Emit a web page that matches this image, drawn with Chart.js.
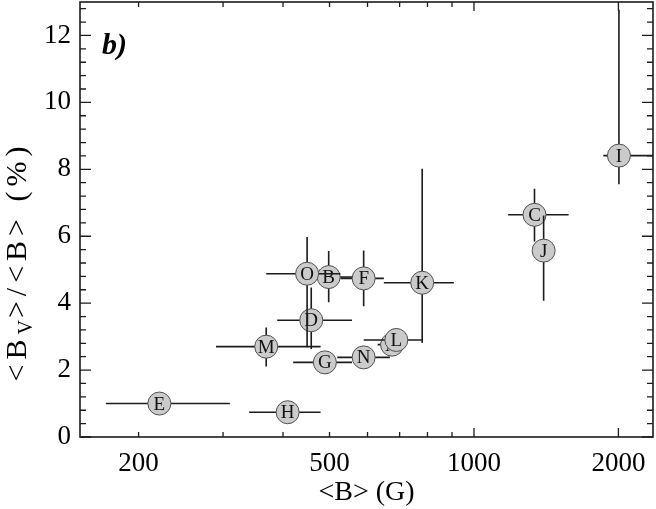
<!DOCTYPE html>
<html><head><meta charset="utf-8">
<script src="https://cdn.jsdelivr.net/npm/chart.js@4.4.1/dist/chart.umd.min.js"></script>
<style>html,body{margin:0;padding:0;background:#fff;}#wrap{width:656px;height:509px;}</style>
</head><body><div id="wrap"><canvas id="c" width="656" height="509"></canvas></div>
<script>
// ---- data ----
const starLabels = ['A','B','C','D','E','F','G','H','I','J','K','L','M','N','O'];
const meanField  = [675, 498, 1337, 458, 221, 589, 489, 409, 2005, 1397, 780, 689, 369, 589, 449];
const vRatio     = [2.76, 4.78, 6.64, 3.49, 1.00, 4.74, 2.23, 0.74, 8.41, 5.57, 4.61, 2.90, 2.70, 2.38, 4.88];
const fieldLow   = [630, 474, 1178, 389, 171, 527, 420, 340, 1860, 1330, 649, 589, 290, 519, 369];
const fieldHigh  = [700, 560, 1575, 557, 310, 649, 557, 479, 2600, 1474, 908, 780, 479, 668, 527];
const ratioLow   = [2.45, 4.03, 5.84, 2.63, 0.95, 3.91, 2.15, 0.70, 7.55, 4.07, 2.81, 2.60, 2.11, 2.30, 2.68];
const ratioHigh  = [3.05, 5.56, 7.42, 4.47, 1.05, 5.57, 2.30, 0.80, 12.77, 6.62, 8.02, 3.25, 3.27, 2.45, 5.98];
const xTickLabels = [200, 500, 1000, 2000];
const yTickLabels = [0, 2, 4, 6, 8, 10, 12];
const xMinorTicks = [200, 300, 400, 500, 600, 700, 800, 900];
const xMajorTicks = [1000, 2000];
const yMinorTicks = [];
for (let k = 0; k <= 32; k++) { const v = +(k * 0.4).toFixed(1); if (Math.abs(v / 2 - Math.round(v / 2)) > 1e-6) yMinorTicks.push(v); }

const SERIF = '"Liberation Serif","Times New Roman",serif';
const INK = '#1c1c1c';

const datasets = starLabels.map((lab, i) => ({
  label: lab,
  data: [{x: meanField[i], y: vRatio[i]}],
  order: starLabels.length - i,
  pointRadius: 11.5,
  pointBackgroundColor: '#cbcbcb',
  pointBorderColor: '#505050',
  pointBorderWidth: 1,
  clip: false
}));

const figPlugin = {
  id: 'fig',
  beforeDatasetDraw(chart, args) {
    const i = args.index;
    const xs = chart.scales.x, ys = chart.scales.y, a = chart.chartArea, ctx = chart.ctx;
    ctx.save();
    ctx.beginPath(); ctx.rect(a.left, a.top, a.right - a.left, a.bottom - a.top); ctx.clip();
    ctx.strokeStyle = INK; ctx.lineWidth = 1.6;
    const px = xs.getPixelForValue(meanField[i]), py = ys.getPixelForValue(vRatio[i]);
    ctx.beginPath();
    ctx.moveTo(xs.getPixelForValue(fieldLow[i]), py); ctx.lineTo(xs.getPixelForValue(fieldHigh[i]), py);
    ctx.moveTo(px, ys.getPixelForValue(ratioLow[i])); ctx.lineTo(px, ys.getPixelForValue(ratioHigh[i]));
    ctx.stroke();
    ctx.restore();
  },
  afterDatasetDraw(chart, args) {
    const i = args.index;
    const xs = chart.scales.x, ys = chart.scales.y, ctx = chart.ctx;
    ctx.save();
    ctx.fillStyle = '#111';
    ctx.font = '19px ' + SERIF;
    ctx.textAlign = 'center'; ctx.textBaseline = 'middle';
    ctx.fillText(starLabels[i], xs.getPixelForValue(meanField[i]), ys.getPixelForValue(vRatio[i]) + 1);
    ctx.restore();
  },
  afterDraw(chart) {
    const xs = chart.scales.x, ys = chart.scales.y, a = chart.chartArea, ctx = chart.ctx;
    ctx.save();
    ctx.strokeStyle = INK; ctx.lineWidth = 1.6;
    ctx.strokeRect(a.left, a.top, a.right - a.left, a.bottom - a.top);
    ctx.lineWidth = 1.3;
    ctx.beginPath();
    const xt = (vals, len) => vals.forEach(v => { const p = xs.getPixelForValue(v);
      ctx.moveTo(p, a.bottom); ctx.lineTo(p, a.bottom - len); ctx.moveTo(p, a.top); ctx.lineTo(p, a.top + len); });
    const yt = (vals, len) => vals.forEach(v => { const p = ys.getPixelForValue(v);
      ctx.moveTo(a.left, p); ctx.lineTo(a.left + len, p); ctx.moveTo(a.right, p); ctx.lineTo(a.right - len, p); });
    xt(xMinorTicks, 5); xt(xMajorTicks, 9); yt(yMinorTicks, 6); yt(yTickLabels, 11);
    ctx.stroke();
    // panel tag
    ctx.fillStyle = '#000';
    ctx.font = 'italic bold 30px ' + SERIF;
    ctx.textAlign = 'left'; ctx.textBaseline = 'alphabetic';
    ctx.fillText('b)', 102, 54);
    // y axis title with subscript
    const big = '30px ' + SERIF, small = '20px ' + SERIF, gap = 5;
    const parts = [['<', big, 0], ['B', big, 0], ['V', small, 6], ['>', big, 0], ['/', big, 0], ['<', big, 0],
                   ['B', big, 0], ['>', big, 0], [' ', big, 0], ['(', big, 0], ['%', big, 0], [')', big, 0]];
    let w = 0;
    parts.forEach((p, k) => { ctx.font = p[1]; w += ctx.measureText(p[0]).width + (k < parts.length - 1 ? (p[2] ? 2 : gap) : 0); });
    ctx.translate(16, 264); ctx.rotate(-Math.PI / 2);
    let x0 = -w / 2;
    parts.forEach((p, k) => { ctx.font = p[1]; ctx.fillText(p[0], x0, 10 + p[2]); x0 += ctx.measureText(p[0]).width + (p[2] ? 2 : gap); });
    ctx.restore();
  }
};

const noPad = s => { s.paddingLeft = 0; s.paddingRight = 0; s.paddingTop = 0; s.paddingBottom = 0; };

new Chart(document.getElementById('c'), {
  type: 'scatter',
  data: { datasets },
  options: {
    responsive: false, animation: false, devicePixelRatio: 1, events: [],
    layout: { autoPadding: false, padding: { top: 2, right: 3, left: 0, bottom: 0 } },
    plugins: { legend: { display: false }, tooltip: { enabled: false } },
    scales: {
      x: {
        type: 'logarithmic', min: 151, max: 2361,
        afterBuildTicks: s => { s.ticks = xTickLabels.map(v => ({ value: v })); },
        afterFit: s => { s.height = 72; noPad(s); },
        grid: { display: false, drawTicks: false }, border: { display: false },
        ticks: { color: '#000', font: { family: SERIF, size: 27 }, padding: 11, maxRotation: 0, autoSkip: false,
                 callback: v => String(v) },
        title: { display: true, text: '<B> (G)', color: '#000', font: { family: SERIF, size: 28 }, padding: { top: 0, bottom: 0 } }
      },
      y: {
        min: 0, max: 13,
        afterBuildTicks: s => { s.ticks = yTickLabels.map(v => ({ value: v })); },
        afterFit: s => { s.width = 80; noPad(s); },
        grid: { display: false, drawTicks: false }, border: { display: false },
        ticks: { color: '#000', font: { family: SERIF, size: 27 }, padding: 9, callback: v => String(v) }
      }
    }
  },
  plugins: [figPlugin]
});
</script></body></html>
